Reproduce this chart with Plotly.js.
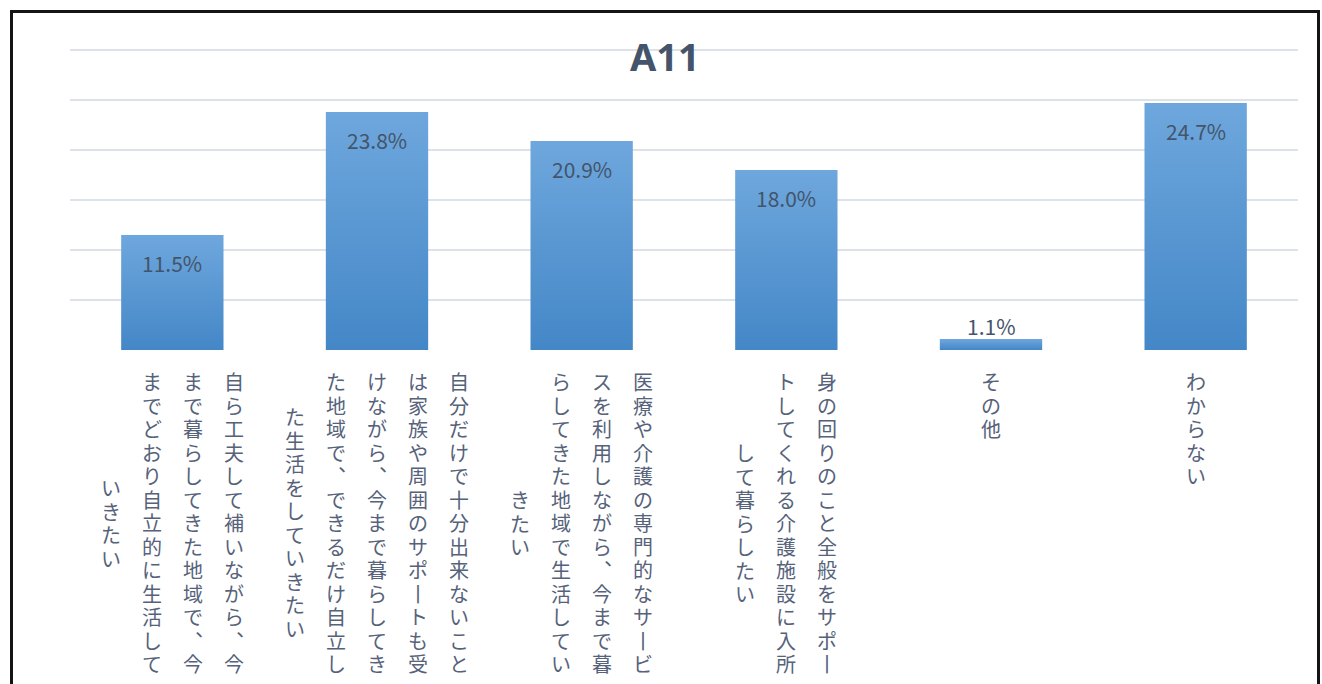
<!DOCTYPE html>
<html><head><meta charset="utf-8">
<script src="https://cdn.plot.ly/plotly-3.0.1.min.js"></script>
<style>
html,body{margin:0;padding:0;background:#fff;overflow:hidden;width:1322px;height:684px;}
#frame{position:absolute;left:10px;top:10px;width:1310px;height:900px;border:3px solid #141414;box-sizing:border-box;}
#chart{position:absolute;left:0;top:0;width:1322px;height:684px;}
</style></head><body>
<div id="frame"></div>
<div id="chart"></div>
<script>
const chartTitle = 'A11';
const categories = [
  '自ら工夫して補いながら、今まで暮らしてきた地域で、今までどおり自立的に生活していきたい',
  '自分だけで十分出来ないことは家族や周囲のサポートも受けながら、今まで暮らしてきた地域で、できるだけ自立した生活をしていきたい',
  '医療や介護の専門的なサービスを利用しながら、今まで暮らしてきた地域で生活していきたい',
  '身の回りのこと全般をサポートしてくれる介護施設に入所して暮らしたい',
  'その他',
  'わからない'
];
const values = [11.5, 23.8, 20.9, 18.0, 1.1, 24.7];
const yTickValues = [0, 5, 10, 15, 20, 25, 30];

// vertical (tategaki) rendering helpers
const CHARS_PER_COLUMN = 13;
const COLUMN_PITCH = 41;
const CHAR_PITCH = 23.5;
const FIRST_CHAR_TOP = 15;
const verticalForms = {'、': '︑', 'ー': '丨', '。': '︒'};

const annotations = [];
categories.forEach((cat, ci) => {
  const chars = Array.from(cat);
  const cols = [];
  for (let i = 0; i < chars.length; i += CHARS_PER_COLUMN) cols.push(chars.slice(i, i + CHARS_PER_COLUMN));
  const n = cols.length;
  const maxLen = Math.max(...cols.map(c => c.length));
  cols.forEach((col, j) => {
    const off = (maxLen - col.length) / 2 * CHAR_PITCH;
    const xs = ((n - 1) / 2 - j) * COLUMN_PITCH;
    annotations.push({
      x: cat, xref: 'x', y: 0, yref: 'paper',
      text: col.map(ch => verticalForms[ch] || ch).join('<br>'),
      showarrow: false, align: 'center',
      xanchor: 'center', yanchor: 'top',
      xshift: xs, yshift: -(FIRST_CHAR_TOP + off),
      font: {family: '"Noto Sans CJK JP", sans-serif', size: 20, color: '#56627A'}
    });
  });
});

// data labels
values.forEach((v, i) => {
  const inside = v > 4;
  annotations.push({
    x: categories[i], xref: 'x', y: v, yref: 'y',
    text: v.toFixed(1) + '%', showarrow: false,
    xanchor: 'center', yanchor: 'middle',
    yshift: inside ? -28 : 13,
    font: {family: '"Noto Sans CJK JP", sans-serif', size: 21, color: '#44546A'}
  });
});

const data = [{
  type: 'bar', x: categories, y: values,
  marker: {color: '#5A97D6', line: {width: 0}},
  hoverinfo: 'none'
}];

const layout = {
  width: 1322, height: 684,
  margin: {l: 70, r: 24, t: 45, b: 334, pad: 0},
  paper_bgcolor: 'rgba(0,0,0,0)', plot_bgcolor: 'rgba(0,0,0,0)',
  bargap: 0.5,
  showlegend: false,
  title: {
    text: '<b>' + chartTitle + '</b>',
    font: {family: '"Noto Sans", sans-serif', size: 38, color: '#44546A'},
    xref: 'container', x: 0.503, xanchor: 'center',
    yref: 'container', y: 1 - 58 / 684, yanchor: 'middle'
  },
  xaxis: {type: 'category', showticklabels: false, showgrid: false, zeroline: false, showline: false, ticks: ''},
  yaxis: {range: [0, 30.5], tickvals: yTickValues, showticklabels: false, showgrid: true,
          gridcolor: '#DDE2E9', gridwidth: 2, zeroline: false, showline: false, ticks: ''},
  annotations: annotations
};

Plotly.newPlot('chart', data, layout, {staticPlot: true, displayModeBar: false}).then(gd => {
  const svg = gd.querySelector('svg.main-svg');
  const ns = 'http://www.w3.org/2000/svg';
  let defs = svg.querySelector('defs');
  if (!defs) { defs = document.createElementNS(ns, 'defs'); svg.insertBefore(defs, svg.firstChild); }
  const g = document.createElementNS(ns, 'linearGradient');
  g.setAttribute('id', 'barGrad');
  g.setAttribute('x1', '0'); g.setAttribute('y1', '0'); g.setAttribute('x2', '0'); g.setAttribute('y2', '1');
  [['0', '#6EA7DD'], ['1', '#4487C7']].forEach(([o, c]) => {
    const s = document.createElementNS(ns, 'stop');
    s.setAttribute('offset', o); s.setAttribute('stop-color', c);
    g.appendChild(s);
  });
  defs.appendChild(g);
  gd.querySelectorAll('.bars .point path').forEach(p => { p.style.fill = 'url(#barGrad)'; });
  // tighten vertical line pitch of the stacked category columns (each line's dy is measured from the shared y)
  gd.querySelectorAll('.annotation-text').forEach(t => {
    const lines = t.querySelectorAll('tspan.line');
    lines.forEach((ln, k) => { ln.setAttribute('dy', (k * CHAR_PITCH) + 'px'); });
  });
});
</script>
</body></html>
